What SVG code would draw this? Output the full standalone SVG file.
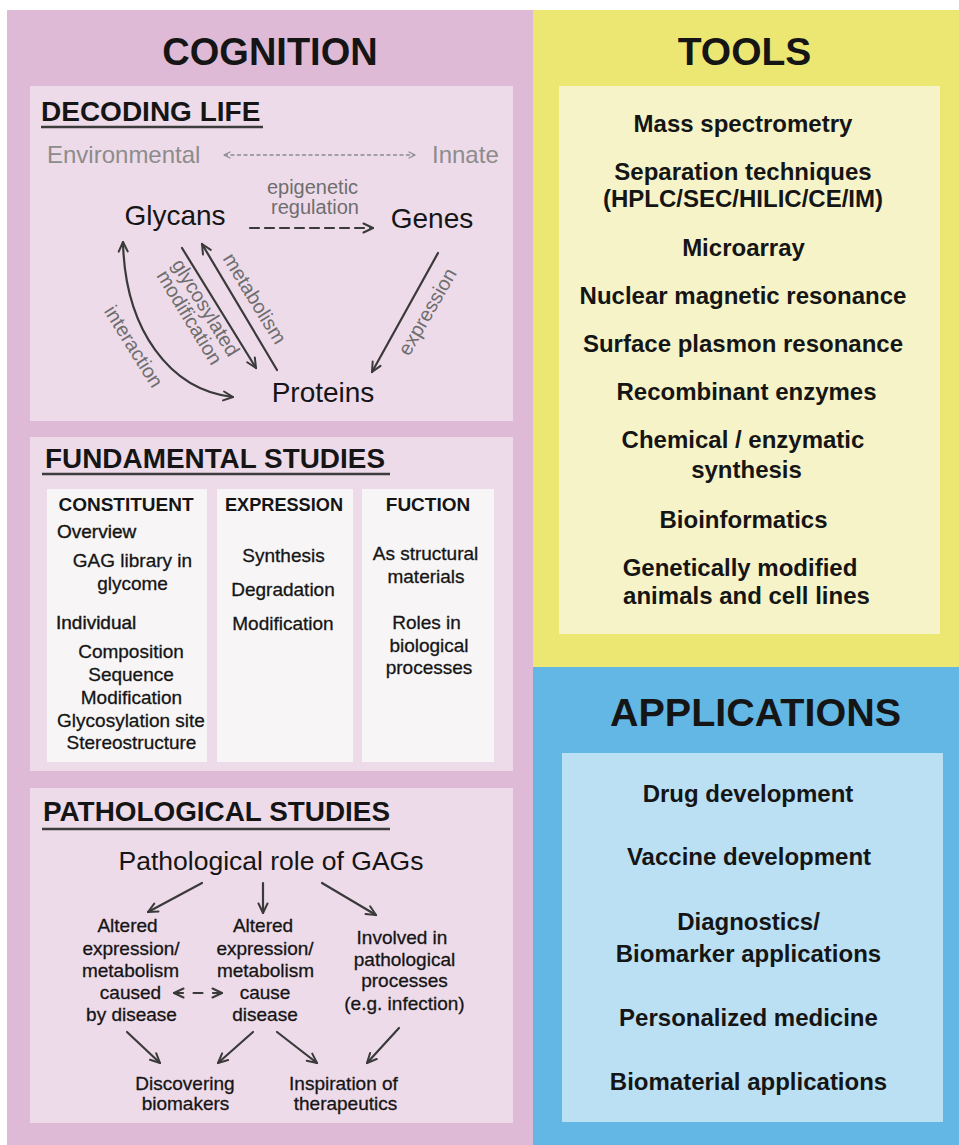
<svg xmlns="http://www.w3.org/2000/svg" width="959" height="1145" viewBox="0 0 959 1145">
<defs>
<style>
text{font-family:"Liberation Sans",Arial,Helvetica,sans-serif;fill:#151515}
.h1{font-size:38px;font-weight:bold;text-anchor:middle}
.h2{font-size:28px;font-weight:bold}
.ch{font-size:19px;font-weight:bold;text-anchor:middle}
.t{font-size:19px;text-anchor:middle;stroke:#151515;stroke-width:0.3}
.tl{font-size:19px;stroke:#151515;stroke-width:0.4}
.item{font-size:24px;font-weight:bold;text-anchor:middle}
.node{font-size:28px;text-anchor:middle}
.lbl{font-size:20px;fill:#6e6e6e;text-anchor:middle}
.env{font-size:24px;fill:#8c8c8c}
.ul{stroke:#3c3c3c;stroke-width:2.5}
.arr{fill:none;stroke:#3a3a3a;stroke-width:2.2;stroke-linecap:round}
.garr{fill:none;stroke:#8c8c8c;stroke-width:1.3;stroke-dasharray:4 2.5}
.col{fill:#f8f5f7}
.sub{fill:#eedbea}
</style>
<marker id="ah" viewBox="0 0 12 12" refX="11" refY="6" markerWidth="12" markerHeight="12" markerUnits="userSpaceOnUse" orient="auto-start-reverse">
<path d="M1.5,1.5 L11,6 L1.5,10.5" fill="none" stroke="#3a3a3a" stroke-width="2" stroke-linecap="round" stroke-linejoin="round"/>
</marker>
<marker id="gh" viewBox="0 0 8 8" refX="7" refY="4" markerWidth="8" markerHeight="8" markerUnits="userSpaceOnUse" orient="auto-start-reverse">
<path d="M1,1 L7,4 L1,7" fill="none" stroke="#8c8c8c" stroke-width="1.3" stroke-linecap="round" stroke-linejoin="round"/>
</marker>
</defs>
<rect x="0" y="0" width="959" height="1145" fill="#ffffff"/>

<g id="cognition-panel">
<rect x="7" y="10" width="526" height="1135" fill="#dfbad6"/>
<text class="h1" x="270" y="65">COGNITION</text>
</g>

<g id="tools-panel">
<rect x="533" y="10" width="426" height="657" fill="#ece673"/>
<text class="h1" x="744.5" y="65" style="font-size:39px">TOOLS</text>
<rect x="559" y="86" width="381" height="548" fill="#f6f3c8"/>
<text class="item" x="743" y="132">Mass spectrometry</text>
<text class="item" x="743" y="180">Separation techniques</text>
<text class="item" x="743" y="207">(HPLC/SEC/HILIC/CE/IM)</text>
<text class="item" x="743.5" y="256">Microarray</text>
<text class="item" x="743" y="304">Nuclear magnetic resonance</text>
<text class="item" x="743" y="352">Surface plasmon resonance</text>
<text class="item" x="746.5" y="400">Recombinant enzymes</text>
<text class="item" x="743" y="448">Chemical / enzymatic</text>
<text class="item" x="746.5" y="478">synthesis</text>
<text class="item" x="743.5" y="528">Bioinformatics</text>
<text class="item" x="740" y="576">Genetically modified</text>
<text class="item" x="746.5" y="604">animals and cell lines</text>
</g>

<g id="applications-panel">
<rect x="533" y="667" width="426" height="478" fill="#63b7e5"/>
<text class="h1" x="755.5" y="726" style="font-size:39.5px">APPLICATIONS</text>
<rect x="562" y="753" width="381" height="369" fill="#bbe0f3"/>
<text class="item" x="748" y="802">Drug development</text>
<text class="item" x="749" y="865">Vaccine development</text>
<text class="item" x="748.5" y="930">Diagnostics/</text>
<text class="item" x="748.5" y="962">Biomarker applications</text>
<text class="item" x="748.5" y="1026">Personalized medicine</text>
<text class="item" x="748.5" y="1090">Biomaterial applications</text>
</g>

<g id="decoding-life">
<rect class="sub" x="30" y="86" width="483" height="335"/>
<text class="h2" x="41" y="121">DECODING LIFE</text>
<line class="ul" x1="41" y1="127" x2="263" y2="127"/>
<text class="env" x="47" y="163">Environmental</text>
<text class="env" x="432" y="163">Innate</text>
<text class="lbl" x="312.5" y="194">epigenetic</text>
<text class="lbl" x="315" y="214">regulation</text>
<g id="node-glycans"><text class="node" x="175" y="225">Glycans</text></g>
<g id="node-genes"><text class="node" x="432" y="228">Genes</text></g>
<g id="node-proteins"><text class="node" x="323" y="402">Proteins</text></g>
<g transform="translate(133,347) rotate(58)"><text class="lbl" x="0" y="6">interaction</text></g>
<g transform="translate(197,313) rotate(58.5)"><text class="lbl" x="0" y="-3.5">glycosylated</text><text class="lbl" x="0" y="15.5">modification</text></g>
<g transform="translate(254,299) rotate(58.5)"><text class="lbl" x="0" y="6">metabolism</text></g>
<g transform="translate(428,312) rotate(-60)"><text class="lbl" x="0" y="6">expression</text></g>
</g>

<g id="fundamental-studies">
<rect class="sub" x="30" y="437" width="483" height="334"/>
<text class="h2" x="45" y="468" textLength="340" lengthAdjust="spacingAndGlyphs">FUNDAMENTAL STUDIES</text>
<line class="ul" x1="42" y1="474" x2="390" y2="474"/>
<g id="col-constituent">
<rect class="col" x="47" y="489" width="160" height="273"/>
<text class="ch" x="126" y="511">CONSTITUENT</text>
<text class="tl" x="57" y="538">Overview</text>
<text class="t" x="132.5" y="567">GAG library in</text>
<text class="t" x="132.5" y="590">glycome</text>
<text class="tl" x="56" y="629">Individual</text>
<text class="t" x="131" y="658">Composition</text>
<text class="t" x="131" y="681">Sequence</text>
<text class="t" x="131.5" y="704">Modification</text>
<text class="t" x="131" y="727">Glycosylation site</text>
<text class="t" x="131.5" y="749">Stereostructure</text>
</g>
<g id="col-expression">
<rect class="col" x="217" y="489" width="136" height="273"/>
<text class="ch" x="284" y="511" textLength="118" lengthAdjust="spacingAndGlyphs">EXPRESSION</text>
<text class="t" x="283.5" y="562">Synthesis</text>
<text class="t" x="283" y="596">Degradation</text>
<text class="t" x="283" y="630">Modification</text>
</g>
<g id="col-function">
<rect class="col" x="362" y="489" width="132" height="273"/>
<text class="ch" x="428" y="511">FUCTION</text>
<text class="t" x="425.5" y="560">As structural</text>
<text class="t" x="426" y="583">materials</text>
<text class="t" x="426.5" y="629">Roles in</text>
<text class="t" x="429" y="652">biological</text>
<text class="t" x="429" y="674">processes</text>
</g>
</g>

<g id="pathological-studies">
<rect class="sub" x="30" y="788" width="483" height="335"/>
<text class="h2" x="43" y="821" textLength="347" lengthAdjust="spacingAndGlyphs">PATHOLOGICAL STUDIES</text>
<line class="ul" x1="42" y1="829" x2="390" y2="829"/>
<g id="node-role"><text x="271" y="870" style="font-size:26.5px;text-anchor:middle">Pathological role of GAGs</text></g>
<g id="node-caused-by">
<text class="t" x="127.5" y="932">Altered</text>
<text class="t" x="131" y="955">expression/</text>
<text class="t" x="130.5" y="977">metabolism</text>
<text class="t" x="130.5" y="999">caused</text>
<text class="t" x="131.5" y="1021">by disease</text>
</g>
<g id="node-cause">
<text class="t" x="263" y="932">Altered</text>
<text class="t" x="265" y="955">expression/</text>
<text class="t" x="265.5" y="977">metabolism</text>
<text class="t" x="265" y="999">cause</text>
<text class="t" x="265" y="1021">disease</text>
</g>
<g id="node-involved">
<text class="t" x="402" y="944">Involved in</text>
<text class="t" x="404.5" y="966">pathological</text>
<text class="t" x="404.5" y="987">processes</text>
<text class="t" x="404.5" y="1010">(e.g. infection)</text>
</g>
<g id="node-biomarkers">
<text class="t" x="185" y="1090">Discovering</text>
<text class="t" x="185.5" y="1110">biomakers</text>
</g>
<g id="node-therapeutics">
<text class="t" x="343.5" y="1090">Inspiration of</text>
<text class="t" x="345.5" y="1110">therapeutics</text>
</g>
</g>

<g id="connectors">
<path class="garr" d="M224,155 L415,155" marker-start="url(#gh)" marker-end="url(#gh)"/>
<path class="arr" d="M250,228 L373,228" style="stroke-dasharray:9 6" marker-end="url(#ah)"/>
<path class="arr" d="M182,248 L256,368" marker-end="url(#ah)"/>
<path class="arr" d="M277,370 L202,244" marker-end="url(#ah)"/>
<path class="arr" d="M123,242 C125,330 170,390 233,397" marker-start="url(#ah)" marker-end="url(#ah)"/>
<path class="arr" d="M438,253 L372,372" marker-end="url(#ah)"/>
<path class="arr" d="M202,883 L148,912" marker-end="url(#ah)"/>
<path class="arr" d="M263,883 L263,913" marker-end="url(#ah)"/>
<path class="arr" d="M322,883 L376,915" marker-end="url(#ah)"/>
<path class="arr" d="M174,993 L222,993" style="stroke-dasharray:9 10.5" marker-start="url(#ah)" marker-end="url(#ah)"/>
<path class="arr" d="M127,1032 L160,1063" marker-end="url(#ah)"/>
<path class="arr" d="M253,1032 L218,1063" marker-end="url(#ah)"/>
<path class="arr" d="M277,1032 L317,1063" marker-end="url(#ah)"/>
<path class="arr" d="M399,1028 L367,1063" marker-end="url(#ah)"/>
</g>
</svg>
